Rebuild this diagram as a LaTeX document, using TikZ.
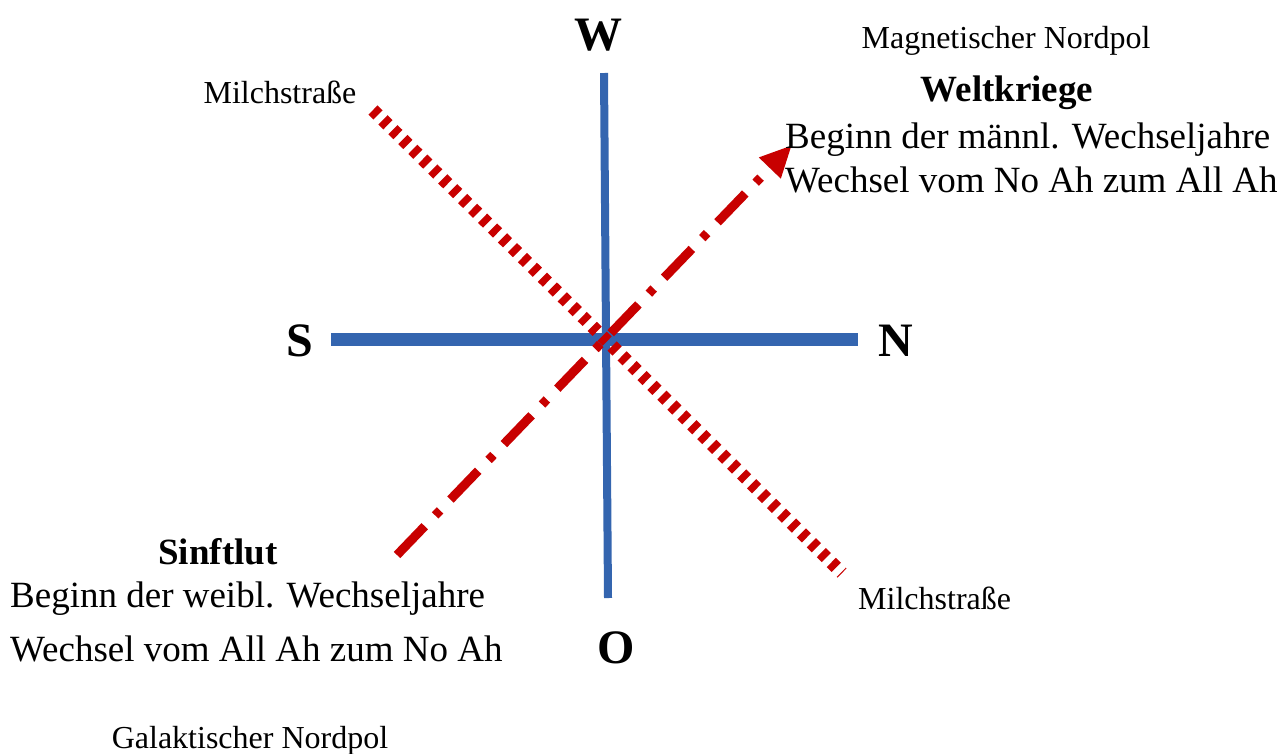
\documentclass[tikz,border=0pt]{standalone}
\usepackage{fontspec}
\setmainfont{Liberation Serif}
\usetikzlibrary{arrows.meta}
\definecolor{axisblue}{RGB}{52,101,175}
\definecolor{darkred}{RGB}{200,0,0}
\begin{document}
\begin{tikzpicture}[x=1pt,y=-1pt,
  big/.style={font=\fontsize{48}{56}\selectfont\bfseries, inner sep=0pt, anchor=base},
  body/.style={font=\fontsize{37}{44}\selectfont, inner sep=0pt, anchor=base west},
  head/.style={font=\fontsize{37}{44}\selectfont\bfseries, inner sep=0pt, anchor=base},
  small/.style={font=\fontsize{32}{38}\selectfont, inner sep=0pt, anchor=base},
  axis/.style={draw=axisblue, line cap=butt},
  milky/.style={draw=darkred, line width=13pt, dash pattern=on 7pt off 7pt},
  epoch/.style={draw=darkred, line width=9pt, dash pattern=on 40pt off 15pt on 7pt off 15pt,
     -{Triangle[length=32pt,width=28pt]}}]
\useasboundingbox (0,0) rectangle (1285,753);

% compass axes
\coordinate (wtop) at (604,73);
\coordinate (obot) at (608,598);
\coordinate (sleft) at (331,339);
\coordinate (nright) at (858,339);
\draw[axis, line width=8pt] (wtop) -- (obot);
\draw[axis, line width=13pt] (sleft) -- (nright);

% Milchstrasse line
\coordinate (ms1) at (373,110);
\coordinate (ms2) at (842,573);
\draw[milky] (ms1) -- (ms2);

% epoch arrow
\coordinate (ep1) at (397,555);
\coordinate (ep2) at (792,145);
\draw[epoch] (ep1) -- (ep2);

% compass letters
\node[big] (W) at (598,50) {W};
\node[big] (S) at (300,356) {S};
\node[big] (N) at (896,356) {N};
\node[big] (O) at (616,663) {O};

% labels
\node[small] (magn) at (1006,48) {Magnetischer Nordpol};
\node[small] (ms1lab) at (280,103) {Milchstraße};
\node[small, anchor=base west] (ms2lab) at (858,609) {Milchstraße};
\node[small] (gal) at (250,748) {Galaktischer Nordpol};

\node[head] (welt) at (1007,101) {Weltkriege};
\node[body] (wl1) at (785,148) {Beginn der männl. Wechseljahre};
\node[body] (wl2) at (785,192) {Wechsel vom No Ah zum All Ah};

\node[head] (sint) at (218,564) {Sinftlut};
\node[body] (sl1) at (10,607) {Beginn der weibl. Wechseljahre};
\node[body] (sl2) at (10,661) {Wechsel vom All Ah zum No Ah};
\end{tikzpicture}
\end{document}
